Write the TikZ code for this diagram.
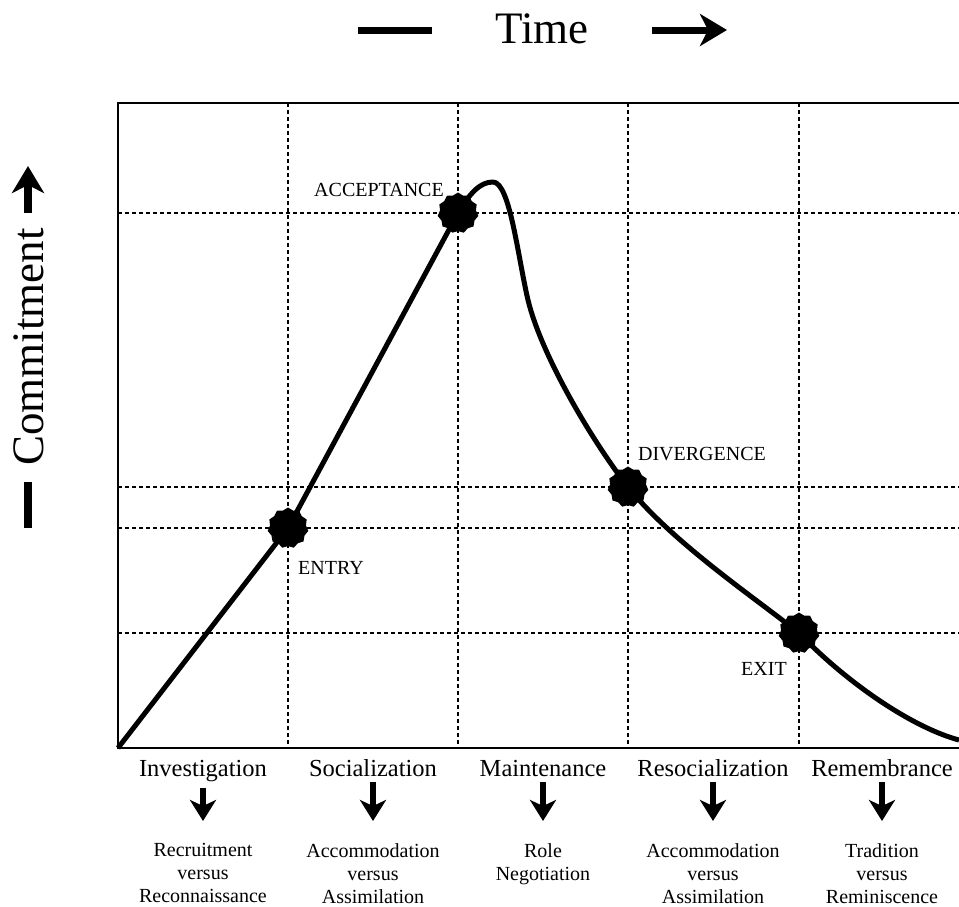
\documentclass[tikz,border=0pt]{standalone}
\usepackage{fontspec}
\setmainfont{Liberation Serif}
\usetikzlibrary{shapes.geometric,arrows.meta}

\begin{document}
\begin{tikzpicture}[x=1pt,y=-1pt,
  milestone/.style={star,star points=11,star point ratio=1.13,minimum size=41pt,inner sep=0pt,fill=black,line join=round},
  phase/.style={font=\fontsize{24.5}{28}\selectfont,anchor=base,inner sep=3pt},
  outcome/.style={font=\fontsize{20}{23}\selectfont,align=center,anchor=north,inner sep=0pt},
  tag/.style={font=\fontsize{20}{24}\selectfont},
  grid line/.style={dash pattern=on 4pt off 3pt,line width=1.1pt},
  down arrow/.style={line width=5.5pt,-{Stealth[length=21pt,width=26pt,inset=6pt]},shorten <=3pt,shorten >=22pt}]
  \useasboundingbox (0,0) rectangle (959,906);

  % axes titles
  \node[font=\fontsize{45}{54}\selectfont,anchor=base] (time) at (542,43) {Time};
  \draw[line width=7pt] (358,30) -- (432,30);
  \draw[line width=7pt,-{Stealth[length=27pt,width=32pt,inset=8pt]}] (652,30) -- (727,30);
  \node[font=\fontsize{45}{54}\selectfont,anchor=base,rotate=90] (commit) at (43,347) {Commitment};
  \draw[line width=8pt,-{Stealth[length=27pt,width=32pt,inset=8pt]}] (28,213) -- (28,166);
  \draw[line width=8pt] (28,482) -- (28,528);

  % frame and grid
  \foreach \x in {288,458,628,799}
    \draw[grid line] (\x,103) -- (\x,748);
  \foreach \y in {213,528}
    \draw[grid line] (118,\y) -- (959,\y);
  \foreach \y in {487,633}
    \draw[grid line,line width=1.7pt] (118,\y) -- (959,\y);
  \draw[line width=1.6pt] (959,103) -- (118,103) -- (118,748) -- (959,748);

  % milestones
  \node[milestone] (entry) at (288,528) {};
  \node[milestone] (accept) at (458,213) {};
  \node[milestone] (diverge) at (628,487) {};
  \node[milestone] (exit) at (799,633) {};
  \node[tag] (entrylbl) at (331,568) {ENTRY};
  \node[tag] (acceptlbl) at (379,190) {ACCEPTANCE};
  \node[tag] (divergelbl) at (702,454) {DIVERGENCE};
  \node[tag] (exitlbl) at (764,669) {EXIT};

  % commitment curve
  \coordinate (origin) at (118,748);
  \coordinate (peak) at (493,182);
  \coordinate (bend) at (528,300);
  \coordinate (tail) at (959,740);
  \draw[line width=5pt,line join=round] (origin) -- (entry.center) -- (accept.center)
    .. controls (470,193) and (480,182) .. (peak)
    .. controls (510,182) and (518,258) .. (bend)
    .. controls (541,354) and (590,438) .. (diverge.center)
    .. controls (672,542) and (755,598) .. (exit.center)
    .. controls (849,685) and (914,728) .. (tail);

  % phases
  \node[phase] (inv) at (203,776) {Investigation};
  \node[phase] (soc) at (373,776) {Socialization};
  \node[phase] (mai) at (543,776) {Maintenance};
  \node[phase] (res) at (713,776) {Resocialization};
  \node[phase] (rem) at (882,776) {Remembrance};
  \node[outcome] (invout) at (203,843) {Recruitment\\versus\\Reconnaissance};
  \node[outcome] (socout) at (373,843) {Accommodation\\versus\\Assimilation};
  \node[outcome] (maiout) at (543,843) {Role\\Negotiation};
  \node[outcome] (resout) at (713,843) {Accommodation\\versus\\Assimilation};
  \node[outcome] (remout) at (882,843) {Tradition\\versus\\Reminiscence};
  \draw[down arrow] (inv) -- (invout);
  \draw[down arrow] (soc) -- (socout);
  \draw[down arrow] (mai) -- (maiout);
  \draw[down arrow] (res) -- (resout);
  \draw[down arrow] (rem) -- (remout);
\end{tikzpicture}
\end{document}
